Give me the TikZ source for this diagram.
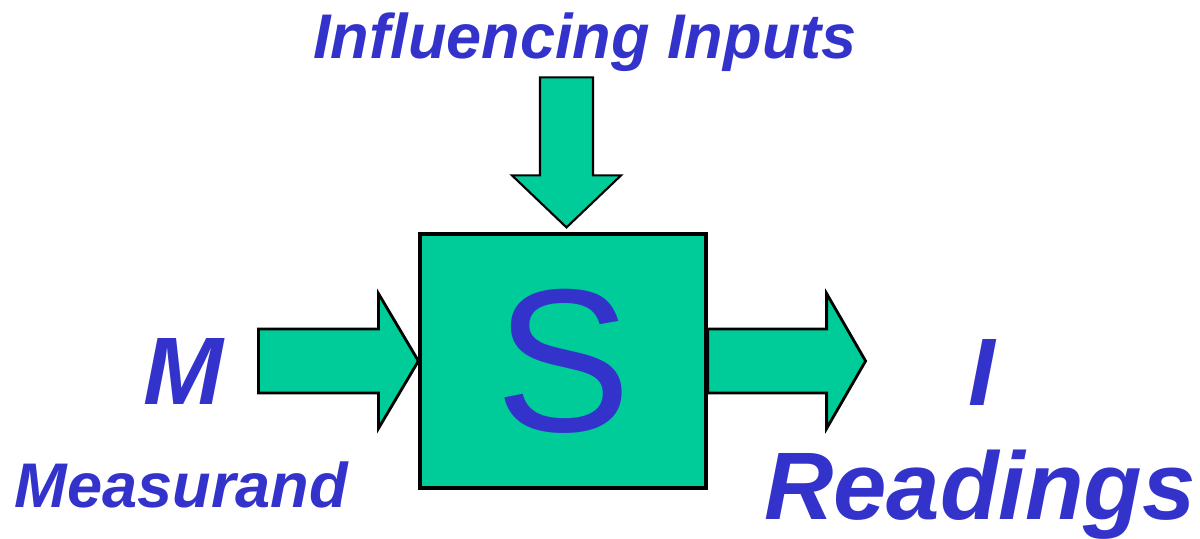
\documentclass[tikz,border=0pt]{standalone}
\usepackage{fontspec}
\setmainfont{Liberation Sans}
\usetikzlibrary{calc}
\definecolor{SensorFill}{HTML}{00CC99}
\definecolor{SensorText}{HTML}{3333CC}

\begin{document}
\begin{tikzpicture}[
  blockarrow/.style={draw=black,fill=SensorFill,line width=1.6pt,line join=miter},
  bigtext/.style={text=SensorText,font=\fontsize{54.6}{60}\selectfont\bfseries\itshape,anchor=base,inner sep=0pt},
  smalltext/.style={text=SensorText,font=\fontsize{35.9}{40}\selectfont\bfseries\itshape,anchor=base,inner sep=0pt}]
  \useasboundingbox (0,0) rectangle (24,10.76);
  % sensor block
  \node[draw,fill=SensorFill,line width=1.8pt,minimum width=5.72cm,minimum height=5.08cm,
        text=SensorText,font=\fontsize{116}{120}\selectfont] (S) at (11.26,3.54) {S};
  % measurand in
  \coordinate (inTip) at (S.west);
  \draw[blockarrow] (inTip) -- ++(-0.8,1.35) -- ++(0,-0.71) -- ++(-2.4,0) -- ++(0,-1.28)
    -- ++(2.4,0) -- ++(0,-0.71) -- cycle;
  % readings out
  \coordinate (outBase) at (S.east);
  \draw[blockarrow] ($(outBase)+(0,0.64)$) -- ++(2.38,0) -- ++(0,0.71) -- ++(0.78,-1.35)
    -- ++(-0.78,-1.35) -- ++(0,0.71) -- ++(-2.38,0) -- cycle;
  % influencing inputs from above
  \coordinate (topTip) at ($(S.north)+(0.07,0.1)$);
  \draw[blockarrow,line width=1.2pt] (topTip) -- ++(-1.09,1.04) -- ++(0.56,0) -- ++(0,1.96)
    -- ++(1.06,0) -- ++(0,-1.96) -- ++(0.56,0) -- cycle;
  % labels
  \node[smalltext] (influence) at (11.7,9.58) {Influencing Inputs};
  \node[bigtext] (m) at (3.66,2.68) {M};
  \node[smalltext] (measurand) at (3.63,0.62) {Measurand};
  \node[bigtext] (i) at (19.64,2.66) {I};
  \node[bigtext] (readings) at (19.6,0.38) {Readings};
\end{tikzpicture}
\end{document}
